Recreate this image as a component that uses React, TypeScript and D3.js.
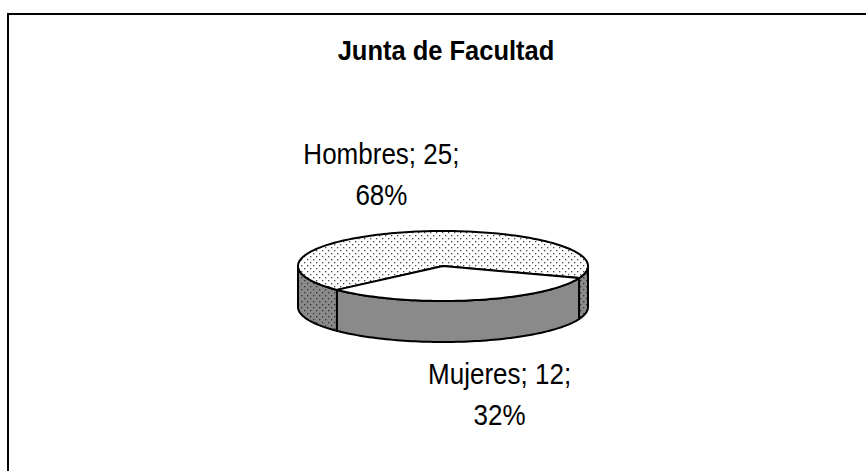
import React from 'react';
import * as d3 from 'd3';

// pie data
const categories = ['Hombres', 'Mujeres'];
const values = [25, 12];
const chartTitle = 'Junta de Facultad';

const width = 866,
    height = 471;

// 3d pie geometry
const cx = 443,
    cy = 266,
    rx = 145,
    ry = 35,
    depth = 41;
const startDeg = 227;

const topFills = ['url(#dotsTop)', '#ffffff'];
const sideFills = ['url(#dotsSide)', '#8a8a8a'];
// label placement relative to the slice's mid point on the rim
const labelShift = [[-33, -68], [28, 84]];
const textStretch = 1.1; // the original font renders tall and narrow

const pt = (a: number, dy = 0): [number, number] => [cx + rx * Math.sin(a), cy - ry * Math.cos(a) + dy];

const arcPts = (a0: number, a1: number, dy = 0) => {
    const n = Math.max(2, Math.ceil(Math.abs(a1 - a0) / (Math.PI / 120)));
    return d3.range(n + 1).map(i => pt(a0 + (a1 - a0) * i / n, dy));
};

// pieces of an angle range that face the viewer (lower half of the ellipse)
const frontParts = (a0: number, a1: number) => {
    const out: [number, number][] = [];
    for (let k = -1; k <= 2; k++) {
        const lo = Math.PI / 2 + 2 * Math.PI * k,
            hi = 3 * Math.PI / 2 + 2 * Math.PI * k;
        const s = Math.max(a0, lo),
            e = Math.min(a1, hi);
        if (e > s) out.push([s, e]);
    }
    return out;
};

const line = d3.line();

const font = "'Liberation Sans', Arial, sans-serif";

const Txt = ({ x, y, size = 26, bold = false, children }: any) => (
    <text
        transform={`translate(${x},${y}) scale(1,${textStretch})`}
        textAnchor="middle"
        fontFamily={font}
        fontSize={size}
        fontWeight={bold ? 'bold' : 'normal'}
    >
        {children}
    </text>
);

export default function App() {
    const total = d3.sum(values);
    const pct = d3.format('.0%');
    const start = (startDeg * Math.PI) / 180;
    const arcs = d3.pie<number>().sort(null).startAngle(start).endAngle(start + 2 * Math.PI)(values);

    const sides: { d: string; fill: string }[] = [];
    arcs.forEach((a, i) => {
        frontParts(a.startAngle, a.endAngle).forEach(([s, e]) => {
            const pts = [...arcPts(s, e), ...arcPts(e, s, depth)];
            sides.push({ d: line(pts) + 'Z', fill: sideFills[i] });
        });
    });

    return (
        <svg width={width} height={height} style={{ position: 'absolute', left: 0, top: 0, background: '#fff' }}>
            <defs>
                <pattern id="dotsTop" width={6} height={6} patternUnits="userSpaceOnUse">
                    <rect width={6} height={6} fill="#fff" />
                    <rect x={1} y={1} width={1.3} height={1.3} fill="#444" />
                    <rect x={4} y={4} width={1.3} height={1.3} fill="#444" />
                </pattern>
                <pattern id="dotsSide" width={6} height={6} patternUnits="userSpaceOnUse">
                    <rect width={6} height={6} fill="#8a8a8a" />
                    <rect x={1} y={1} width={1.3} height={1.3} fill="#333" />
                    <rect x={4} y={4} width={1.3} height={1.3} fill="#333" />
                </pattern>
            </defs>
            <rect x={8} y={14} width={900} height={500} fill="none" stroke="#000" strokeWidth={2} />
            <Txt x={446} y={60} size={25.5} bold>
                {chartTitle}
            </Txt>
            <g stroke="#000" strokeWidth={2} strokeLinejoin="round">
                {sides.map((s, i) => (
                    <path key={'s' + i} d={s.d} fill={s.fill} />
                ))}
                {arcs.map((a, i) => (
                    <path key={'t' + i} d={line([[cx, cy], ...arcPts(a.startAngle, a.endAngle)]) + 'Z'} fill={topFills[i]} />
                ))}
            </g>
            {arcs.map((a, i) => {
                const mid = (a.startAngle + a.endAngle) / 2;
                const [mx, my] = pt(mid);
                const x = mx + labelShift[i][0],
                    y = my + labelShift[i][1];
                return (
                    <g key={'l' + i}>
                        <Txt x={x} y={y}>{`${categories[i]}; ${values[i]};`}</Txt>
                        <Txt x={x} y={y + 41}>{pct(values[i] / total)}</Txt>
                    </g>
                );
            })}
        </svg>
    );
}
